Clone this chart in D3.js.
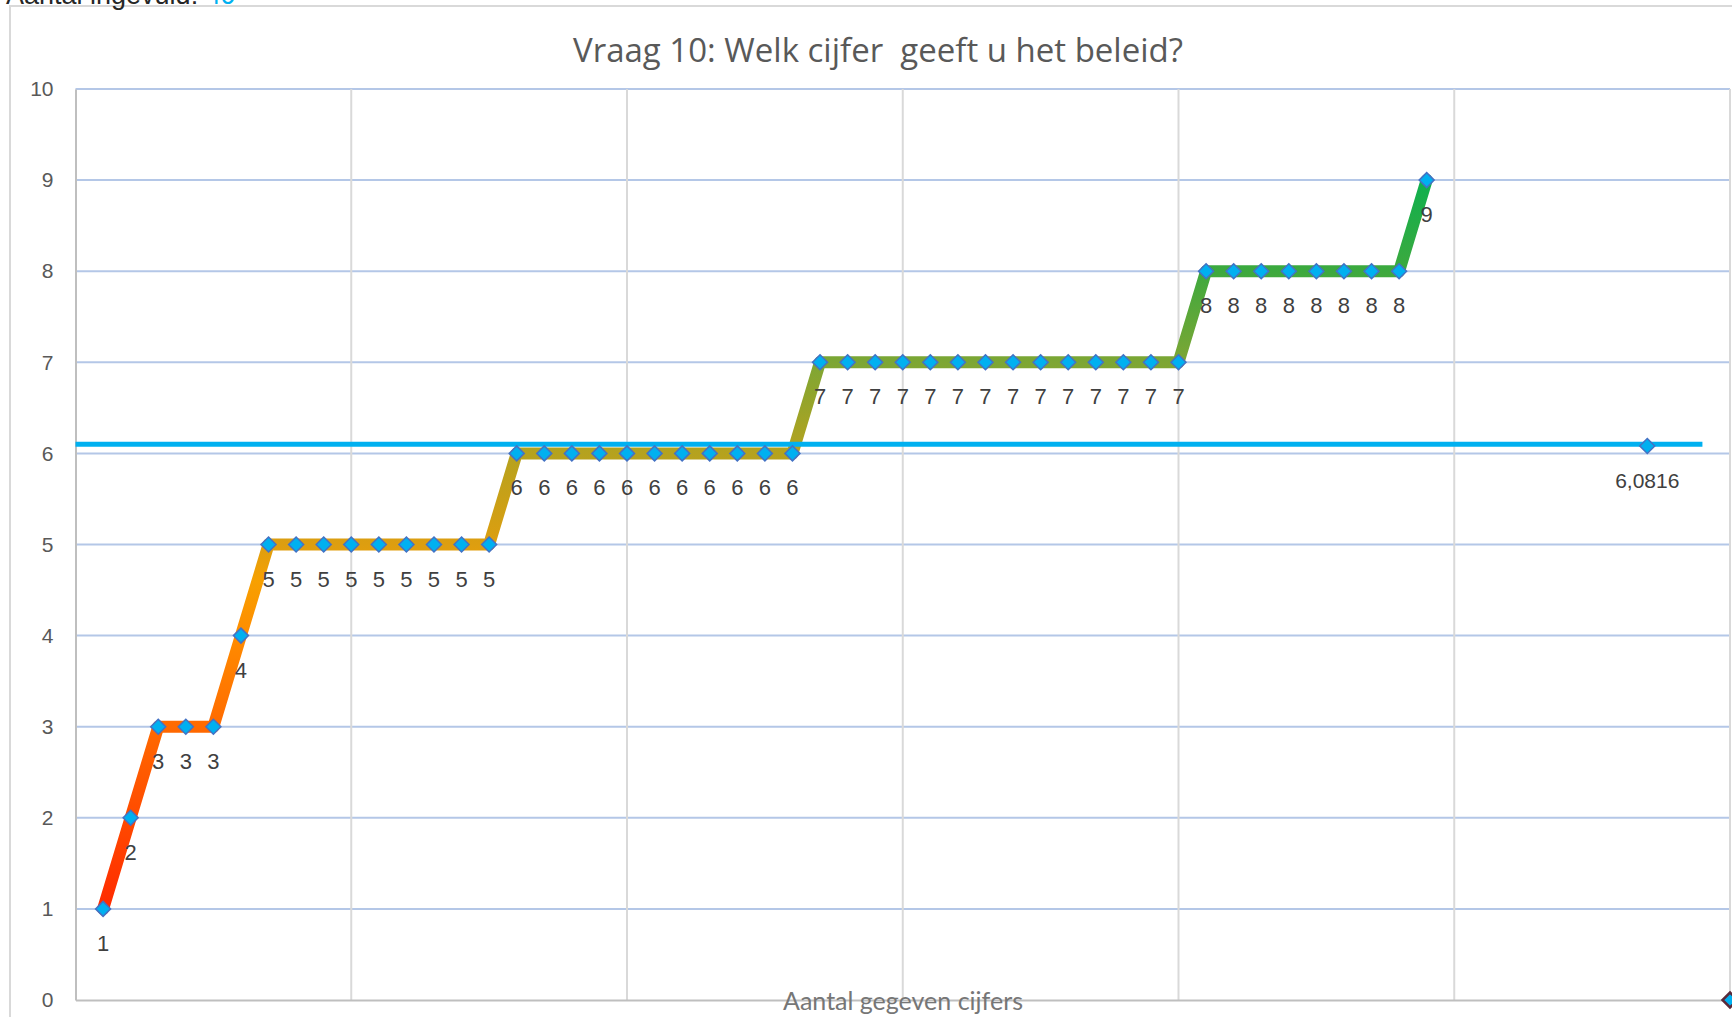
<!DOCTYPE html>
<html>
<head>
<meta charset="utf-8">
<script src="https://d3js.org/d3.v7.min.js"></script>
<style>
  body { margin: 0; background: #ffffff; }
  svg { display: block; }
</style>
</head>
<body>
<div id="chart"></div>
<script>
// data
var title = "Vraag 10: Welk cijfer\u00a0 geeft u het beleid?";
var xTitle = "Aantal gegeven cijfers";
var countLabel = "Aantal ingevuld: ";
var countValue = "49";

var grades = [1, 2, 3, 3, 3, 4,
    5, 5, 5, 5, 5, 5, 5, 5, 5,
    6, 6, 6, 6, 6, 6, 6, 6, 6, 6, 6,
    7, 7, 7, 7, 7, 7, 7, 7, 7, 7, 7, 7, 7, 7,
    8, 8, 8, 8, 8, 8, 8, 8,
    9];
var meanValue = 6.0816;
var meanPosition = 57;
var meanLineValue = 6.1;
var meanLineEnd = 59;
var endPoint = { x: 60, y: 0 };

var yTicks = [0, 1, 2, 3, 4, 5, 6, 7, 8, 9, 10];
var xGrid = [10, 20, 30, 40, 50, 60];

// svg container
var svgWidth = 1732;
var svgHeight = 1017;

var svg = d3.select("#chart").append("svg")
    .attr("width", svgWidth)
    .attr("height", svgHeight);

// scales
var xScale = d3.scaleLinear().domain([0, 60]).range([75.5, 1730]);
var yScale = d3.scaleLinear().domain([0, 10]).range([1000, 89]);

// outer chart border
svg.append("rect")
    .attr("x", 10)
    .attr("y", 6)
    .attr("width", 1740)
    .attr("height", 1040)
    .attr("fill", "none")
    .attr("stroke", "#d9d9d9")
    .attr("stroke-width", 2);

// text at the top (cut off, as in the original screenshot)
var topText = svg.append("text")
    .attr("x", 6)
    .attr("y", 4)
    .attr("font-family", "Liberation Sans, Arial, sans-serif")
    .attr("font-size", "27px")
    .attr("fill", "#262626");
topText.append("tspan").text(countLabel);
topText.append("tspan").attr("fill", "#00b0f0").text(countValue);

// title
svg.append("text")
    .attr("x", 878)
    .attr("y", 62)
    .attr("text-anchor", "middle")
    .attr("font-family", "Open Sans, sans-serif")
    .attr("font-size", "33px")
    .attr("fill", "#595959")
    .attr("textLength", 610)
    .attr("lengthAdjust", "spacingAndGlyphs")
    .text(title);

// horizontal gridlines
svg.append("g")
    .selectAll("line")
    .data(yTicks.filter(d => d > 0))
    .enter()
    .append("line")
    .attr("x1", xScale(0))
    .attr("x2", xScale(60))
    .attr("y1", d => yScale(d))
    .attr("y2", d => yScale(d))
    .attr("stroke", "#b4c7e7")
    .attr("stroke-width", 2);

// vertical gridlines
svg.append("g")
    .selectAll("line")
    .data(xGrid)
    .enter()
    .append("line")
    .attr("x1", d => xScale(d))
    .attr("x2", d => xScale(d))
    .attr("y1", yScale(10))
    .attr("y2", yScale(0))
    .attr("stroke", "#d9d9d9")
    .attr("stroke-width", 2);

// y axis
var yAxis = d3.axisLeft(yScale).tickValues(yTicks).tickSize(0).tickPadding(22);
var yAxisGroup = svg.append("g")
    .attr("transform", `translate(${xScale(0)}, 0)`)
    .call(yAxis);
yAxisGroup.select(".domain").attr("stroke", "#bfbfbf").attr("stroke-width", 2);
yAxisGroup.selectAll("text")
    .attr("font-family", "Liberation Sans, Arial, sans-serif")
    .attr("font-size", "21px")
    .attr("fill", "#595959");

// x axis line
var xAxis = d3.axisBottom(xScale).tickValues([]).tickSize(0);
var xAxisGroup = svg.append("g")
    .attr("transform", `translate(0, ${yScale(0)})`)
    .call(xAxis);
xAxisGroup.select(".domain").attr("stroke", "#bfbfbf").attr("stroke-width", 2);

// x axis title
svg.append("text")
    .attr("x", 903)
    .attr("y", 1010)
    .attr("text-anchor", "middle")
    .attr("font-family", "Lato, sans-serif")
    .attr("font-size", "25px")
    .attr("fill", "#767676")
    .text(xTitle);

// gradient for the step line (red at the bottom to green at the top)
var grad = svg.append("defs").append("linearGradient")
    .attr("id", "stepGrad")
    .attr("gradientUnits", "userSpaceOnUse")
    .attr("x1", 0).attr("x2", 0)
    .attr("y1", yScale(1)).attr("y2", yScale(9));
var stops = [
    [0, "#ff2a00"], [0.25, "#ff6a00"], [0.375, "#ff8c00"], [0.45, "#f7a000"],
    [0.5, "#dd9e10"], [0.625, "#b5a21e"], [0.75, "#7da634"],
    [0.875, "#3da93e"], [1, "#0eb04e"]
];
stops.forEach(s => grad.append("stop").attr("offset", s[0]).attr("stop-color", s[1]));

var points = grades.map((g, i) => ({ x: i + 1, y: g }));

var line = d3.line().x(d => xScale(d.x)).y(d => yScale(d.y));

svg.append("path")
    .datum(points)
    .attr("d", line)
    .attr("fill", "none")
    .attr("stroke", "url(#stepGrad)")
    .attr("stroke-width", 12)
    .attr("stroke-linejoin", "round")
    .attr("stroke-linecap", "round");

// mean line
svg.append("line")
    .attr("x1", xScale(0))
    .attr("x2", xScale(meanLineEnd))
    .attr("y1", yScale(meanLineValue))
    .attr("y2", yScale(meanLineValue))
    .attr("stroke", "#00b0f0")
    .attr("stroke-width", 5);

// diamond markers
var diamond = "M0,-7.5L7.5,0L0,7.5L-7.5,0Z";

svg.append("g")
    .selectAll("path")
    .data(points)
    .enter()
    .append("path")
    .attr("d", diamond)
    .attr("transform", d => `translate(${xScale(d.x)}, ${yScale(d.y)})`)
    .attr("fill", "#00b0f0")
    .attr("stroke", "#4472c4")
    .attr("stroke-width", 1.5);

// data labels
svg.append("g")
    .selectAll("text")
    .data(points)
    .enter()
    .append("text")
    .attr("x", d => xScale(d.x))
    .attr("y", d => yScale(d.y) + 42)
    .attr("text-anchor", "middle")
    .attr("font-family", "Liberation Sans, Arial, sans-serif")
    .attr("font-size", "22px")
    .attr("fill", "#404040")
    .text(d => d.y);

// mean point
svg.append("path")
    .attr("d", diamond)
    .attr("transform", `translate(${xScale(meanPosition)}, ${yScale(meanValue)})`)
    .attr("fill", "#00b0f0")
    .attr("stroke", "#4472c4")
    .attr("stroke-width", 1.5);

svg.append("text")
    .attr("x", xScale(meanPosition))
    .attr("y", yScale(meanValue) + 42)
    .attr("text-anchor", "middle")
    .attr("font-family", "Liberation Sans, Arial, sans-serif")
    .attr("font-size", "21px")
    .attr("fill", "#404040")
    .text(String(meanValue).replace(".", ","));

// point at the right edge
svg.append("path")
    .attr("d", diamond)
    .attr("transform", `translate(${xScale(endPoint.x)}, ${yScale(endPoint.y)})`)
    .attr("fill", "#00b0f0")
    .attr("stroke", "#5a2a3a")
    .attr("stroke-width", 2.5);
</script>
</body>
</html>
